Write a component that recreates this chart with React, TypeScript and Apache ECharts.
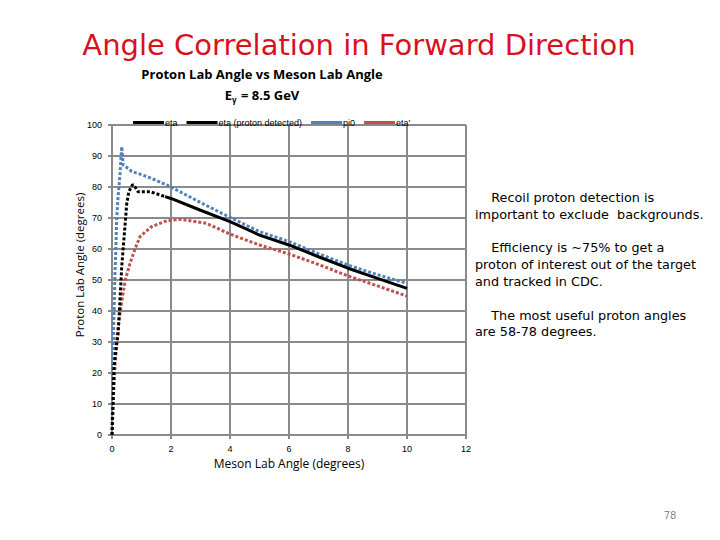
import React, { useEffect, useRef } from "react";
import * as echarts from "echarts";

const xTicks = { min: 0, max: 12, interval: 2 };
const yTicks = { min: 0, max: 100, interval: 10 };

const pi0X = [0, 0.03, 0.05, 0.08, 0.1, 0.13, 0.16, 0.2, 0.27, 0.33, 0.38, 0.55, 0.67, 1.0, 1.34, 2, 3, 4, 5, 6, 7, 8, 9, 10];
const pi0Y = [0, 20, 33, 43.5, 52, 60, 70, 76, 84, 93, 87, 86, 85, 84, 82.8, 80, 75, 70.2, 65.6, 62.4, 58.5, 54.8, 51.7, 48.9];

const etaX = [0, 0.04, 0.07, 0.14, 0.21, 0.27, 0.33, 0.42, 0.5, 0.57, 0.7, 0.78, 0.88, 1.29, 1.8];
const etaY = [0, 11, 22, 28, 33, 43.5, 54.3, 65, 74.7, 78.5, 80.8, 80, 78.5, 78.5, 76.9];

const etaDetX = [1.8, 2, 3, 4, 5, 6, 7, 8, 9, 9.5, 10];
const etaDetY = [76.9, 76.3, 72.5, 68.8, 64.5, 61.3, 57.5, 53.8, 50.5, 48.9, 47.3];

const etaPrimeX = [0, 0.04, 0.1, 0.18, 0.33, 0.45, 0.61, 0.8, 0.95, 1.34, 1.85, 2.3, 3.2, 4, 5, 6, 7, 8, 9, 10];
const etaPrimeY = [0, 11, 22, 33, 43, 50, 55.4, 60.5, 64, 67.2, 69.1, 69.6, 68.3, 64.8, 61.3, 58.4, 55, 51.3, 48.1, 44.8];

const seriesNames = ["eta", "eta (proton detected)", "pi0", "eta'"];

const notes = [
  "    Recoil proton detection is",
  "important to exclude  backgrounds.",
  "",
  "    Efficiency is ~75% to get a",
  "proton of interest out of the target",
  "and tracked in CDC.",
  "",
  "    The most useful proton angles",
  "are 58-78 degrees.",
];

const zip = (xs: number[], ys: number[]) => xs.map((x, i) => [x, ys[i]]);

export default function App() {
  const ref = useRef<HTMLDivElement>(null);
  useEffect(() => {
    document.body.style.margin = "0";
    if (!ref.current) return;
    const chart = echarts.init(ref.current, null, { renderer: "svg" });
    const gridColor = "#8a8a8a";
    const dot = [3, 2];
    chart.setOption({
      animation: false,
      backgroundColor: "#ffffff",
      grid: { left: 112, right: 254, top: 125, bottom: 105 },
      xAxis: {
        type: "value",
        min: xTicks.min,
        max: xTicks.max,
        interval: xTicks.interval,
        axisLine: { show: true, lineStyle: { color: gridColor, width: 2 } },
        axisTick: { show: true, length: 4, lineStyle: { color: gridColor, width: 2 } },
        splitLine: { show: true, lineStyle: { color: gridColor, width: 2 } },
        axisLabel: { color: "#000", fontSize: 9, fontFamily: "Liberation Sans", margin: 9 },
      },
      yAxis: {
        type: "value",
        min: yTicks.min,
        max: yTicks.max,
        interval: yTicks.interval,
        axisLine: { show: true, lineStyle: { color: gridColor, width: 2 } },
        axisTick: { show: true, length: 4, lineStyle: { color: gridColor, width: 2 } },
        splitLine: { show: true, lineStyle: { color: gridColor, width: 2 } },
        axisLabel: { color: "#000", fontSize: 9, fontFamily: "Liberation Sans", margin: 10 },
      },
      legend: {
        left: 128,
        top: 113,
        itemWidth: 31,
        itemHeight: 3,
        itemGap: 9,
        textStyle: { fontSize: 9, color: "#000", fontFamily: "Liberation Sans", padding: [0, 0, 0, -4] },
        data: [
          { name: seriesNames[0], icon: "rect", itemStyle: { color: "#000" } },
          { name: seriesNames[1], icon: "rect", itemStyle: { color: "#000" } },
          { name: seriesNames[2], icon: "rect", itemStyle: { color: "#4f81bd" } },
          { name: seriesNames[3], icon: "rect", itemStyle: { color: "#c0504d" } },
        ],
      },
      series: [
        {
          name: seriesNames[3],
          type: "line",
          data: zip(etaPrimeX, etaPrimeY),
          symbol: "none",
          itemStyle: { color: "#c0504d" },
          lineStyle: { color: "#c0504d", width: 3, type: dot },
        },
        {
          name: seriesNames[2],
          type: "line",
          data: zip(pi0X, pi0Y),
          symbol: "none",
          itemStyle: { color: "#4f81bd" },
          lineStyle: { color: "#4f81bd", width: 3, type: dot },
        },
        {
          name: seriesNames[0],
          type: "line",
          data: zip(etaX, etaY),
          symbol: "none",
          itemStyle: { color: "#000" },
          lineStyle: { color: "#000", width: 3, type: dot },
        },
        {
          name: seriesNames[1],
          type: "line",
          data: zip(etaDetX, etaDetY),
          symbol: "none",
          itemStyle: { color: "#000" },
          lineStyle: { color: "#000", width: 3, type: "solid" },
        },
      ],
      graphic: [
        {
          type: "text",
          x: 359,
          y: 45,
          style: {
            text: "Angle Correlation in Forward Direction",
            fill: "#d9101e",
            font: "29px 'DejaVu Sans'",
            align: "center",
            verticalAlign: "middle",
          },
        },
        {
          type: "text",
          x: 262,
          y: 74,
          style: {
            text: "Proton Lab Angle vs Meson Lab Angle",
            fill: "#000",
            font: "bold 13px 'Open Sans'",
            align: "center",
            verticalAlign: "middle",
          },
        },
        {
          type: "text",
          x: 262,
          y: 95,
          style: {
            text: "{e|E}{s|γ}{e| = 8.5 GeV}",
            align: "center",
            verticalAlign: "middle",
            rich: {
              e: { font: "bold 13px 'Open Sans'", fill: "#000", verticalAlign: "middle" },
              s: { font: "bold 8px 'Open Sans'", fill: "#000", padding: [8, 1, 0, 0] },
            },
          },
        },
        {
          type: "text",
          x: 79,
          y: 265,
          rotation: Math.PI / 2,
          style: {
            text: "Proton Lab Angle (degrees)",
            fill: "#000",
            font: "11.5px 'Open Sans'",
            align: "center",
            verticalAlign: "middle",
          },
        },
        {
          type: "text",
          x: 289,
          y: 463,
          style: {
            text: "Meson Lab Angle (degrees)",
            fill: "#000",
            font: "12px 'Open Sans'",
            align: "center",
            verticalAlign: "middle",
          },
        },
        {
          type: "text",
          x: 475,
          y: 189,
          style: {
            text: notes.join("\n"),
            fill: "#000",
            font: "12.8px 'DejaVu Sans'",
            lineHeight: 16.8,
            align: "left",
            verticalAlign: "top",
          },
        },
        {
          type: "text",
          x: 670,
          y: 515,
          style: {
            text: "78",
            fill: "#888",
            font: "10px 'DejaVu Sans'",
            align: "center",
            verticalAlign: "middle",
          },
        },
      ],
    });
    return () => chart.dispose();
  }, []);
  return <div ref={ref} style={{ width: 720, height: 540 }} />;
}
